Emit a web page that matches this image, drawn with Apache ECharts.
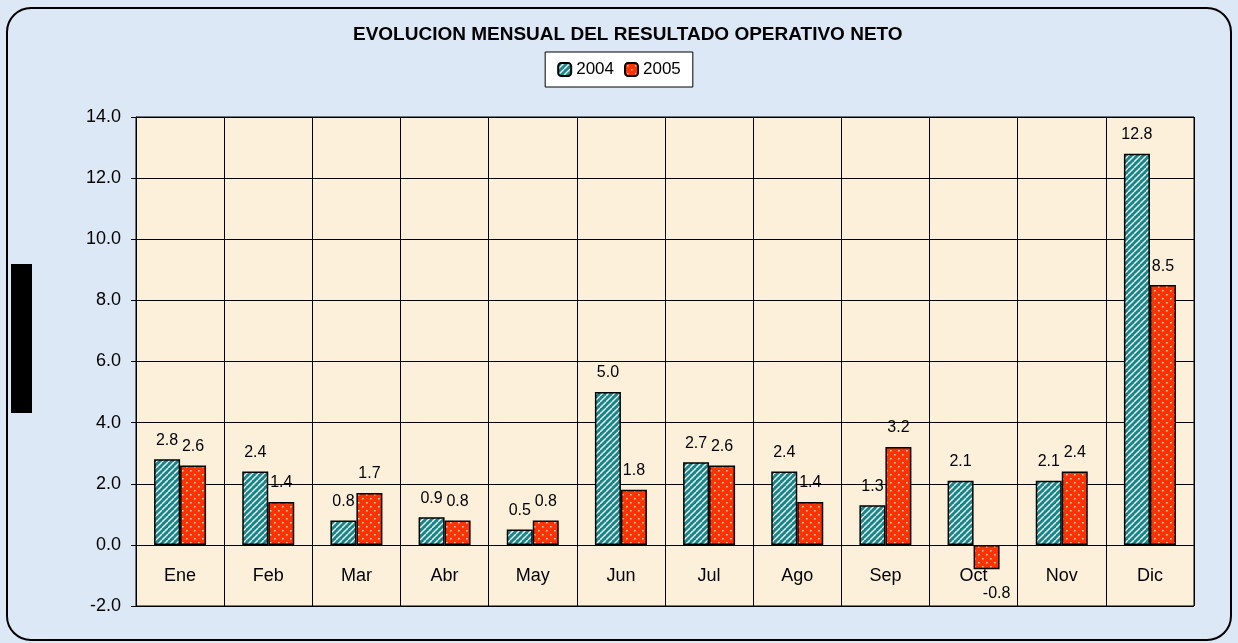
<!DOCTYPE html>
<html><head><meta charset="utf-8">
<script src="https://cdn.jsdelivr.net/npm/echarts@6/dist/echarts.min.js"></script>
<style>html,body{margin:0;padding:0;background:#dce8f5;}#c{width:1238px;height:643px;}</style>
</head><body><div id="c"></div>
<script>
const categories = ['Ene','Feb','Mar','Abr','May','Jun','Jul','Ago','Sep','Oct','Nov','Dic'];
const values2004 = [2.8, 2.4, 0.8, 0.9, 0.5, 5.0, 2.7, 2.4, 1.3, 2.1, 2.1, 12.8];
const values2005 = [2.6, 1.4, 1.7, 0.8, 0.8, 1.8, 2.6, 1.4, 3.2, -0.8, 2.4, 8.5];
const seriesNames = ['2004', '2005'];
const titleText = 'EVOLUCION MENSUAL DEL RESULTADO OPERATIVO NETO';

function stripePattern(){
  const c = document.createElement('canvas'); c.width = 6; c.height = 6;
  const g = c.getContext('2d');
  g.fillStyle = '#17868a'; g.fillRect(0,0,6,6);
  g.strokeStyle = '#ffffff'; g.lineWidth = 1.3;
  for (let k=-1;k<=1;k++){ g.beginPath(); g.moveTo(k*6, 6); g.lineTo(k*6+6, 0); g.stroke(); }
  return c;
}
function dotPattern(){
  const c = document.createElement('canvas'); c.width = 8; c.height = 8;
  const g = c.getContext('2d');
  g.fillStyle = '#ff3300'; g.fillRect(0,0,8,8);
  g.fillStyle = '#ffd8cc';
  g.fillRect(2,2,1.5,1.5);
  g.fillRect(6,6,1.5,1.5);
  return c;
}
const teal = {image: stripePattern(), repeat: 'repeat'};
const red = {image: dotPattern(), repeat: 'repeat'};
const font = 'Liberation Sans, Arial, sans-serif';

function withLabelSide(arr){
  return arr.map(v => ({value: v, label: v < 0
    ? {position: 'bottom', distance: 16, offset: [10, 0]}
    : {position: 'top'}}));
}
const labelStyle = {show: true, distance: 11, fontFamily: font, fontSize: 16, color: '#000',
  formatter: p => p.value.toFixed(1)};

const chart = echarts.init(document.getElementById('c'), null, {renderer: 'canvas'});
chart.setOption({
  backgroundColor: '#dce8f5',
  animation: false,
  title: {text: titleText, left: 348, top: 20,
    textStyle: {fontFamily: font, fontSize: 19, fontWeight: 'bold', color: '#000'}},
  legend: {top: 52, left: 'center', data: seriesNames, backgroundColor: '#ffffff',
    borderColor: '#000', borderWidth: 1, padding: [9, 12, 9, 12], itemWidth: 13, itemHeight: 13,
    itemGap: 10, textStyle: {fontFamily: font, fontSize: 17, color: '#000'}},
  graphic: [
    {type: 'rect', z: -1, shape: {x: 7, y: 8, width: 1224, height: 632, r: 24},
      style: {fill: 'rgba(0,0,0,0)', stroke: '#000', lineWidth: 2}},
    {type: 'rect', shape: {x: 11, y: 264, width: 21, height: 149}, style: {fill: '#000'}}
  ],
  grid: {left: 136, right: 44, top: 117, bottom: 37, show: true, backgroundColor: '#fcf0da',
    borderColor: '#000', borderWidth: 1},
  xAxis: {type: 'category', data: categories, offset: -61,
    axisLine: {onZero: false, lineStyle: {color: '#000', width: 1}},
    axisTick: {show: false},
    splitLine: {show: true, lineStyle: {color: '#000', width: 1}},
    axisLabel: {fontFamily: font, fontSize: 18, color: '#000', margin: 22}},
  yAxis: {type: 'value', min: -2, max: 14, interval: 2,
    axisLine: {show: true, lineStyle: {color: '#000'}},
    axisTick: {show: true, length: 5, lineStyle: {color: '#000'}},
    splitLine: {show: true, lineStyle: {color: '#000', width: 1}},
    axisLabel: {fontFamily: font, fontSize: 18, color: '#000', margin: 15,
      formatter: v => v.toFixed(1)}},
  series: [
    {name: seriesNames[0], type: 'bar', data: withLabelSide(values2004), barWidth: 26, barGap: '0%',
      itemStyle: {color: teal, borderColor: '#000', borderWidth: 1.5},
      label: labelStyle},
    {name: seriesNames[1], type: 'bar', data: withLabelSide(values2005), barWidth: 26,
      itemStyle: {color: red, borderColor: '#000', borderWidth: 1.5},
      label: labelStyle}
  ]
});
</script></body></html>
